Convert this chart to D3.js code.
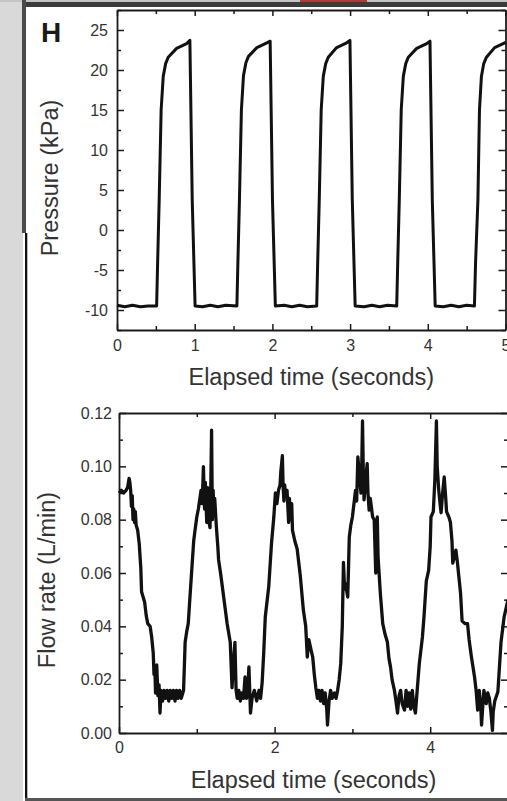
<!DOCTYPE html>
<html>
<head>
<meta charset="utf-8">
<script src="https://cdn.jsdelivr.net/npm/d3@7"></script>
<style>
  body{margin:0;background:#fff;}
  svg{display:block;}
  text{font-family:"Liberation Sans", Arial, sans-serif;}
</style>
</head>
<body>
<div id="chart"></div>
<script>
// pressure trace (seconds, kPa)
const pressureTime = [0.00,0.10,0.20,0.30,0.40,
  0.510,0.523,0.543,0.568,0.595,0.626,0.659,0.767,0.896,0.938,0.968,1.005,
  1.10,1.20,1.30,1.40,
  1.543,1.556,1.576,1.601,1.628,1.659,1.692,1.800,1.929,1.971,2.001,2.038,
  2.15,2.25,2.35,2.45,
  2.570,2.583,2.603,2.628,2.655,2.686,2.719,2.827,2.956,2.998,3.028,3.065,
  3.18,3.28,3.38,3.48,
  3.600,3.613,3.633,3.658,3.685,3.716,3.749,3.857,3.986,4.028,4.058,4.095,
  4.20,4.30,4.40,4.50,
  4.600,4.615,4.645,4.665,4.690,4.720,4.755,4.860,4.990,5.000];
const pressureValue = [-9.4,-9.6,-9.4,-9.6,-9.5,
  -9.5,-4.0,3.8,15.0,19.2,20.8,21.6,22.7,23.3,23.7,3.8,-9.5,
  -9.6,-9.4,-9.6,-9.4,
  -9.5,-4.0,3.8,15.0,19.3,20.9,21.7,22.8,23.4,23.6,3.7,-9.5,
  -9.4,-9.6,-9.4,-9.6,
  -9.5,-4.0,3.8,15.0,19.2,20.8,21.6,22.8,23.4,23.7,3.8,-9.5,
  -9.6,-9.4,-9.6,-9.4,
  -9.5,-4.0,3.8,15.0,19.2,20.8,21.6,22.7,23.3,23.6,3.7,-9.5,
  -9.6,-9.4,-9.6,-9.4,
  -9.5,-4.0,3.8,15.0,19.2,20.8,21.6,22.8,23.4,23.5];

// flow trace (seconds, L/min)
const flowTime = [0.00,0.03,0.06,0.09,0.11,0.13,0.14,0.15,0.16,0.17,0.18,0.19,0.20,0.21,0.22,0.24,0.26,0.28,0.29,0.31,
  0.33,0.35,0.37,0.40,0.42,0.44,0.45,0.46,0.47,0.485,0.50,0.515,0.527,0.54,0.56,0.58,0.60,0.62,0.64,0.66,
  0.68,0.70,0.72,0.74,0.76,0.78,0.80,0.83,0.85,0.87,0.89,0.91,0.935,0.96,0.977,1.00,1.02,1.04,1.055,1.07,
  1.085,1.10,1.11,1.128,1.14,1.15,1.17,1.18,1.19,1.20,1.21,1.22,1.23,1.25,1.27,1.28,1.31,1.35,1.39,1.43,
  1.453,1.47,1.49,1.505,1.52,1.54,1.56,1.58,1.60,1.62,1.64,1.655,1.67,1.69,1.71,1.74,1.77,1.80,1.82,1.84,
  1.86,1.88,1.925,1.96,1.99,2.01,2.03,2.05,2.07,2.08,2.10,2.11,2.12,2.13,2.14,2.16,2.18,2.19,2.21,2.22,
  2.23,2.26,2.29,2.33,2.37,2.40,2.42,2.44,2.47,2.49,2.51,2.53,2.55,2.57,2.59,2.61,2.63,2.65,2.67,2.68,
  2.70,2.72,2.74,2.77,2.79,2.81,2.83,2.85,2.87,2.885,2.90,2.91,2.94,2.95,2.96,2.98,3.00,3.02,3.04,3.055,
  3.07,3.09,3.11,3.12,3.13,3.14,3.15,3.17,3.19,3.20,3.215,3.23,3.26,3.28,3.30,3.31,3.32,3.33,3.36,3.39,
  3.42,3.45,3.47,3.49,3.51,3.54,3.56,3.58,3.60,3.62,3.64,3.67,3.69,3.71,3.73,3.75,3.77,3.79,3.81,3.83,
  3.86,3.90,3.92,3.95,3.98,4.00,4.01,4.04,4.06,4.08,4.09,4.11,4.13,4.14,4.16,4.18,4.20,4.21,4.24,4.26,
  4.28,4.29,4.31,4.33,4.35,4.36,4.39,4.41,4.45,4.48,4.50,4.53,4.57,4.59,4.61,4.63,4.65,4.66,4.68,4.69,
  4.72,4.74,4.76,4.78,4.80,4.81,4.83,4.87,4.91,4.95,5.00];
const flowValue = [0.090,0.091,0.090,0.091,0.092,0.0955,0.094,0.091,0.085,0.089,0.080,0.084,0.079,0.083,0.078,0.076,0.071,0.062,0.053,0.051,
  0.049,0.044,0.041,0.040,0.036,0.030,0.022,0.025,0.015,0.0255,0.014,0.018,0.0075,0.016,0.012,0.016,0.013,0.016,0.012,0.016,
  0.013,0.016,0.012,0.016,0.013,0.016,0.013,0.016,0.034,0.038,0.041,0.050,0.061,0.072,0.076,0.081,0.084,0.088,0.091,0.086,
  0.0999,0.084,0.094,0.079,0.092,0.080,0.077,0.093,0.1136,0.080,0.091,0.082,0.088,0.078,0.070,0.065,0.059,0.050,0.041,0.034,
  0.017,0.026,0.034,0.016,0.013,0.016,0.012,0.015,0.013,0.021,0.013,0.016,0.0248,0.0075,0.013,0.016,0.012,0.016,0.013,0.019,
  0.030,0.0435,0.055,0.071,0.081,0.090,0.086,0.091,0.093,0.098,0.104,0.092,0.087,0.093,0.089,0.091,0.079,0.088,0.080,0.086,
  0.076,0.072,0.069,0.059,0.046,0.040,0.0285,0.035,0.031,0.0285,0.022,0.017,0.013,0.016,0.012,0.016,0.011,0.015,0.009,0.003,
  0.012,0.016,0.013,0.015,0.013,0.016,0.020,0.026,0.040,0.064,0.054,0.056,0.051,0.062,0.0735,0.078,0.081,0.086,0.091,0.087,
  0.1035,0.097,0.090,0.100,0.117,0.098,0.0874,0.095,0.101,0.090,0.0836,0.088,0.081,0.080,0.060,0.070,0.081,0.066,0.052,0.041,
  0.037,0.034,0.028,0.0248,0.020,0.016,0.012,0.0075,0.014,0.016,0.011,0.0086,0.016,0.010,0.015,0.009,0.016,0.010,0.0075,0.015,
  0.026,0.036,0.0435,0.057,0.061,0.070,0.081,0.083,0.095,0.117,0.100,0.091,0.085,0.0826,0.090,0.096,0.088,0.083,0.081,0.079,
  0.072,0.0637,0.066,0.0686,0.064,0.061,0.0525,0.042,0.041,0.041,0.035,0.0285,0.021,0.016,0.0086,0.016,0.010,0.003,0.012,0.016,
  0.011,0.015,0.013,0.008,0.001,0.008,0.012,0.0155,0.034,0.0435,0.050];

// ticks
const pressureTicks = [-10,-5,0,5,10,15,20,25];
const pressureMinor = [-12.5,-7.5,-2.5,2.5,7.5,12.5,17.5,22.5,27.5];
const pressureTimeTicks = [0,1,2,3,4,5];
const pressureTimeMinor = [0.5,1.5,2.5,3.5,4.5];
const flowTicks = [0,0.02,0.04,0.06,0.08,0.10,0.12];
const flowMinor = [0.01,0.03,0.05,0.07,0.09,0.11];
const flowTimeTicks = [0,2,4];
const flowTimeMinor = [1,3,5];

const W = 507, H = 801;
const svg = d3.select('#chart').append('svg').attr('width', W).attr('height', H);

// screenshot frame around the figure
svg.append('rect').attr('x',0).attr('y',0).attr('width',23).attr('height',H).attr('fill','#d9d9d9');
svg.append('rect').attr('x',0).attr('y',0).attr('width',W).attr('height',2).attr('fill','#c4c4c4');
svg.append('rect').attr('x',300).attr('y',0).attr('width',67).attr('height',2).attr('fill','#b23a3a');
svg.append('rect').attr('x',22).attr('y',2).attr('width',W-22).attr('height',5).attr('fill','#3b3b3b');
svg.append('rect').attr('x',22).attr('y',0).attr('width',4).attr('height',233).attr('fill','#4a4a4a');
svg.append('rect').attr('x',25).attr('y',233).attr('width',2.3).attr('height',H-233).attr('fill','#111');
svg.append('rect').attr('x',25).attr('y',798).attr('width',W-25).attr('height',3).attr('fill','#555');

class Panel{
  constructor(opts){
    Object.assign(this, opts);
    this.draw();
  }
  draw(){
    this.plot = svg.append('g');
    this.createScales();
    this.createAxis();
    this.addLine();
    this.addTitles();
  }
  createScales(){
    this.xScale = d3.scaleLinear().domain(this.xDomain).range([this.left, this.right]);
    this.yScale = d3.scaleLinear().domain(this.yDomain).range([this.bottom, this.top]);
  }
  styleAxis(g){
    g.attr('font-family','"Liberation Sans", Arial, sans-serif').attr('font-size',16);
    g.selectAll('text').attr('fill','#333');
    g.selectAll('line').attr('stroke','#1a1a1a').attr('stroke-width',1.5);
    g.select('.domain').attr('stroke','#1a1a1a').attr('stroke-width',1.8);
  }
  createAxis(){
    const x = this.xScale, y = this.yScale;
    const none = () => '';
    const bottom = this.plot.append('g').attr('transform','translate(0,'+this.bottom+')')
      .call(d3.axisBottom(x).tickValues(this.xTicks).tickSize(-6).tickSizeOuter(0).tickPadding(this.xPad).tickFormat(d => String(d)));
    const left = this.plot.append('g').attr('transform','translate('+this.left+',0)')
      .call(d3.axisLeft(y).tickValues(this.yTicks).tickSize(-7).tickSizeOuter(0).tickPadding(this.yPad).tickFormat(this.yFormat));
    const top = this.plot.append('g').attr('transform','translate(0,'+this.top+')')
      .call(d3.axisTop(x).tickValues(this.xTicks).tickSize(-6).tickSizeOuter(0).tickFormat(none));
    const right = this.plot.append('g').attr('transform','translate('+this.right+',0)')
      .call(d3.axisRight(y).tickValues(this.yTicks).tickSize(-7).tickSizeOuter(0).tickFormat(none));
    [bottom,left,top,right].forEach(g => this.styleAxis(g));

    // minor ticks
    const minors = [
      [d3.axisBottom(x).tickValues(this.xMinor), 'translate(0,'+this.bottom+')'],
      [d3.axisTop(x).tickValues(this.xMinor), 'translate(0,'+this.top+')'],
      [d3.axisLeft(y).tickValues(this.yMinor), 'translate('+this.left+',0)'],
      [d3.axisRight(y).tickValues(this.yMinor), 'translate('+this.right+',0)']
    ];
    minors.forEach(([ax, tr]) => {
      const g = this.plot.append('g').attr('transform', tr)
        .call(ax.tickSize(-4).tickSizeOuter(0).tickFormat(none));
      g.select('.domain').remove();
      this.styleAxis(g);
    });
  }
  addLine(){
    const pts = this.times.map((t,i) => ({t:t, v:this.values[i]}));
    const line = d3.line().x(d => this.xScale(d.t)).y(d => this.yScale(d.v));
    this.plot.append('path').datum(pts)
      .attr('d', line)
      .attr('fill','none')
      .attr('stroke','#111')
      .attr('stroke-width',this.lineWidth)
      .attr('stroke-linejoin','round');
  }
  addTitles(){
    this.plot.append('text')
      .attr('x', (this.left+this.right)/2).attr('y', this.xTitleY)
      .attr('text-anchor','middle').attr('font-size',23.5).attr('fill','#333')
      .text(this.xTitle);
    this.plot.append('text')
      .attr('transform','translate('+this.yTitleX+','+((this.top+this.bottom)/2+this.yTitleShift)+') rotate(-90)')
      .attr('text-anchor','middle').attr('font-size',23.5).attr('fill','#333')
      .text(this.yTitle);
  }
}

new Panel({
  left:117, right:505.5, top:10, bottom:330,
  xDomain:[0,5], yDomain:[-12.5,27.5],
  xTicks:pressureTimeTicks, xMinor:pressureTimeMinor,
  yTicks:pressureTicks, yMinor:pressureMinor,
  xPad:10, yPad:9, yFormat: d => String(d),
  times:pressureTime, values:pressureValue, lineWidth:3,
  xTitle:'Elapsed time (seconds)', xTitleY:385,
  yTitle:'Pressure (kPa)', yTitleX:58, yTitleShift:8
});

new Panel({
  left:119, right:508, top:413, bottom:733,
  xDomain:[0,5], yDomain:[0,0.12],
  xTicks:flowTimeTicks, xMinor:flowTimeMinor,
  yTicks:flowTicks, yMinor:flowMinor,
  xPad:9, yPad:7, yFormat: d3.format('.2f'),
  times:flowTime, values:flowValue, lineWidth:3.3,
  xTitle:'Elapsed time (seconds)', xTitleY:788,
  yTitle:'Flow rate (L/min)', yTitleX:55, yTitleShift:7
});

svg.append('text').attr('x',41).attr('y',42)
  .attr('font-size',28).attr('font-weight','bold').attr('fill','#1a1a1a')
  .text('H');
</script>
</body>
</html>
